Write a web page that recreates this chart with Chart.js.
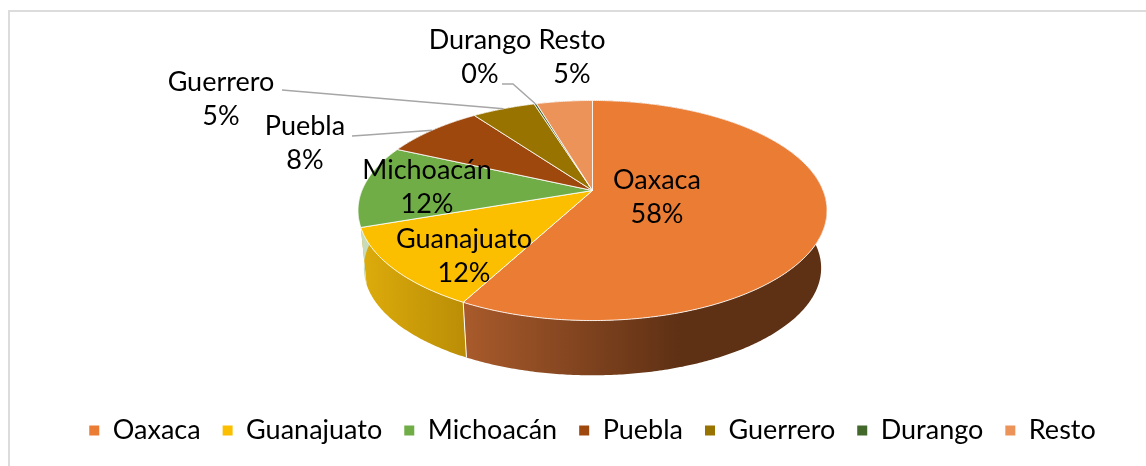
<!DOCTYPE html>
<html>
<head>
<meta charset="utf-8">
<title>Pie 3D</title>
<script src="https://cdn.jsdelivr.net/npm/chart.js@4/dist/chart.umd.min.js"></script>
<style>
  html, body { margin: 0; padding: 0; background: #fff; }
  #contenedor { position: relative; width: 1146px; height: 466px; overflow: hidden; }
  #marco { position: absolute; left: 8px; top: 10px; right: -4px; bottom: -4px; border-left: 2px solid #dcdcdc; border-top: 2px solid #dcdcdc; }
  #grafica { position: absolute; left: 0; top: 0; }
</style>
</head>
<body>
<div id="contenedor">
  <div id="marco"></div>
  <canvas id="grafica" width="1146" height="466"></canvas>
</div>
<script>
const categories = ['Oaxaca', 'Guanajuato', 'Michoacán', 'Puebla', 'Guerrero', 'Durango', 'Resto'];
const shares = [57.8, 11.9, 12.1, 8.2, 5.2, 0.2, 4.6];
const sliceColors = ['#EB7C33', '#FBBF00', '#70AD47', '#9E480E', '#997300', '#43682B', '#EC935A'];
const wallColors = [['#A85A2B', '#5E3014'], ['#DBAA0B', '#BA8D06'], ['#C8DBBB', '#C8DBBB'], ['#6E320A', '#6E320A'], ['#6B5000', '#6B5000'], ['#2F491E', '#2F491E'], ['#A8693F', '#A8693F']];

// centre of each data label, and the elbow of the leader lines
const labelSpots = [[657, 180], [464, 239], [427, 170], [305, 126], [221, 82], [480, 40], [572, 40]];
const leaders = { 3: [[352, 136], [367, 135]], 4: [[282, 90]], 5: [[502, 84], [513, 84]] };

const FONT = 'Lato, Carlito, sans-serif';
const FONT_SIZE = 27;
const LINE_GAP = 34.5;

// perspective of the disc
const persp = 0.1818, stretchX = 1.2137, stretchY = 0.56;
const lowerScale = 0.975, lowerDrop = 58;
const discLift = 7;

function rim(arc, theta, lower) {
  const w = 1 + persp * Math.cos(theta);
  const k = lower ? lowerScale : 1;
  return {
    x: arc.x + arc.outerRadius * stretchX * k * Math.sin(theta) / w,
    y: arc.y - discLift + (lower ? lowerDrop : 0) - arc.outerRadius * stretchY * k * Math.cos(theta) / w
  };
}

function traceRim(ctx, arc, from, to, lower) {
  const steps = Math.max(2, Math.ceil(Math.abs(to - from) / 0.01));
  for (let i = 0; i <= steps; i++) {
    const p = rim(arc, from + (to - from) * i / steps, lower);
    ctx.lineTo(p.x, p.y);
  }
}

const pie3d = {
  id: 'pie3d',
  beforeDatasetsDraw(chart) {
    const ctx = chart.ctx;
    const arcs = chart.getDatasetMeta(0).data;
    ctx.save();
    // side wall
    arcs.forEach((arc, i) => {
      const a = arc.startAngle + Math.PI / 2, b = arc.endAngle + Math.PI / 2;
      const x0 = rim(arc, b, true).x;
      const g = ctx.createLinearGradient(x0, 0, i == 0 ? x0 + 215 : rim(arc, a, true).x, 0);
      g.addColorStop(0, wallColors[i][0]);
      g.addColorStop(1, wallColors[i][1]);
      ctx.beginPath();
      traceRim(ctx, arc, a, b, false);
      traceRim(ctx, arc, b, a, true);
      ctx.closePath();
      ctx.fillStyle = g;
      ctx.fill();
    });
    // edge between the two visible walls
    const first = arcs[0];
    const e = first.endAngle + Math.PI / 2;
    ctx.beginPath();
    ctx.moveTo(rim(first, e, false).x, rim(first, e, false).y);
    ctx.lineTo(rim(first, e, true).x, rim(first, e, true).y);
    ctx.strokeStyle = '#fff';
    ctx.lineWidth = 1;
    ctx.stroke();
    // top of the disc
    arcs.forEach((arc, i) => {
      ctx.beginPath();
      ctx.moveTo(arc.x, arc.y - discLift);
      traceRim(ctx, arc, arc.startAngle + Math.PI / 2, arc.endAngle + Math.PI / 2, false);
      ctx.closePath();
      ctx.fillStyle = sliceColors[i];
      ctx.fill();
      ctx.strokeStyle = 'rgba(255,255,255,0.85)';
      ctx.lineWidth = 1;
      ctx.lineJoin = 'round';
      ctx.stroke();
    });
    ctx.restore();
    return false;
  },
  afterDraw(chart) {
    const ctx = chart.ctx;
    const arcs = chart.getDatasetMeta(0).data;
    const total = shares.reduce((s, v) => s + v, 0);
    ctx.save();
    // leader lines go to the middle of the slice rim
    ctx.strokeStyle = '#A6A6A6';
    ctx.lineWidth = 1.5;
    Object.keys(leaders).forEach(k => {
      const arc = arcs[k];
      const end = rim(arc, (arc.startAngle + arc.endAngle) / 2 + Math.PI / 2, false);
      ctx.beginPath();
      leaders[k].forEach(p => ctx.lineTo(p[0], p[1]));
      ctx.lineTo(end.x, end.y);
      ctx.stroke();
    });
    ctx.fillStyle = '#000';
    ctx.font = FONT_SIZE + 'px ' + FONT;
    ctx.textAlign = 'center';
    ctx.textBaseline = 'middle';
    categories.forEach((name, i) => {
      const spot = labelSpots[i];
      ctx.fillText(name, spot[0], spot[1]);
      ctx.fillText(Math.round(shares[i] / total * 100) + '%', spot[0], spot[1] + LINE_GAP);
    });
    ctx.restore();
  }
};

new Chart(document.getElementById('grafica'), {
  type: 'pie',
  data: {
    labels: categories,
    datasets: [{ data: shares, backgroundColor: sliceColors, borderColor: '#fff', borderWidth: 0, radius: 190 }]
  },
  options: {
    responsive: false,
    animation: false,
    layout: { padding: { left: 39, top: 0, bottom: 12 } },
    plugins: {
      tooltip: { enabled: false },
      legend: {
        position: 'bottom',
        labels: {
          boxWidth: 10,
          boxHeight: 10,
          padding: 22,
          color: '#000',
          font: { family: FONT, size: FONT_SIZE }
        }
      }
    }
  },
  plugins: [pie3d]
});
</script>
</body>
</html>
